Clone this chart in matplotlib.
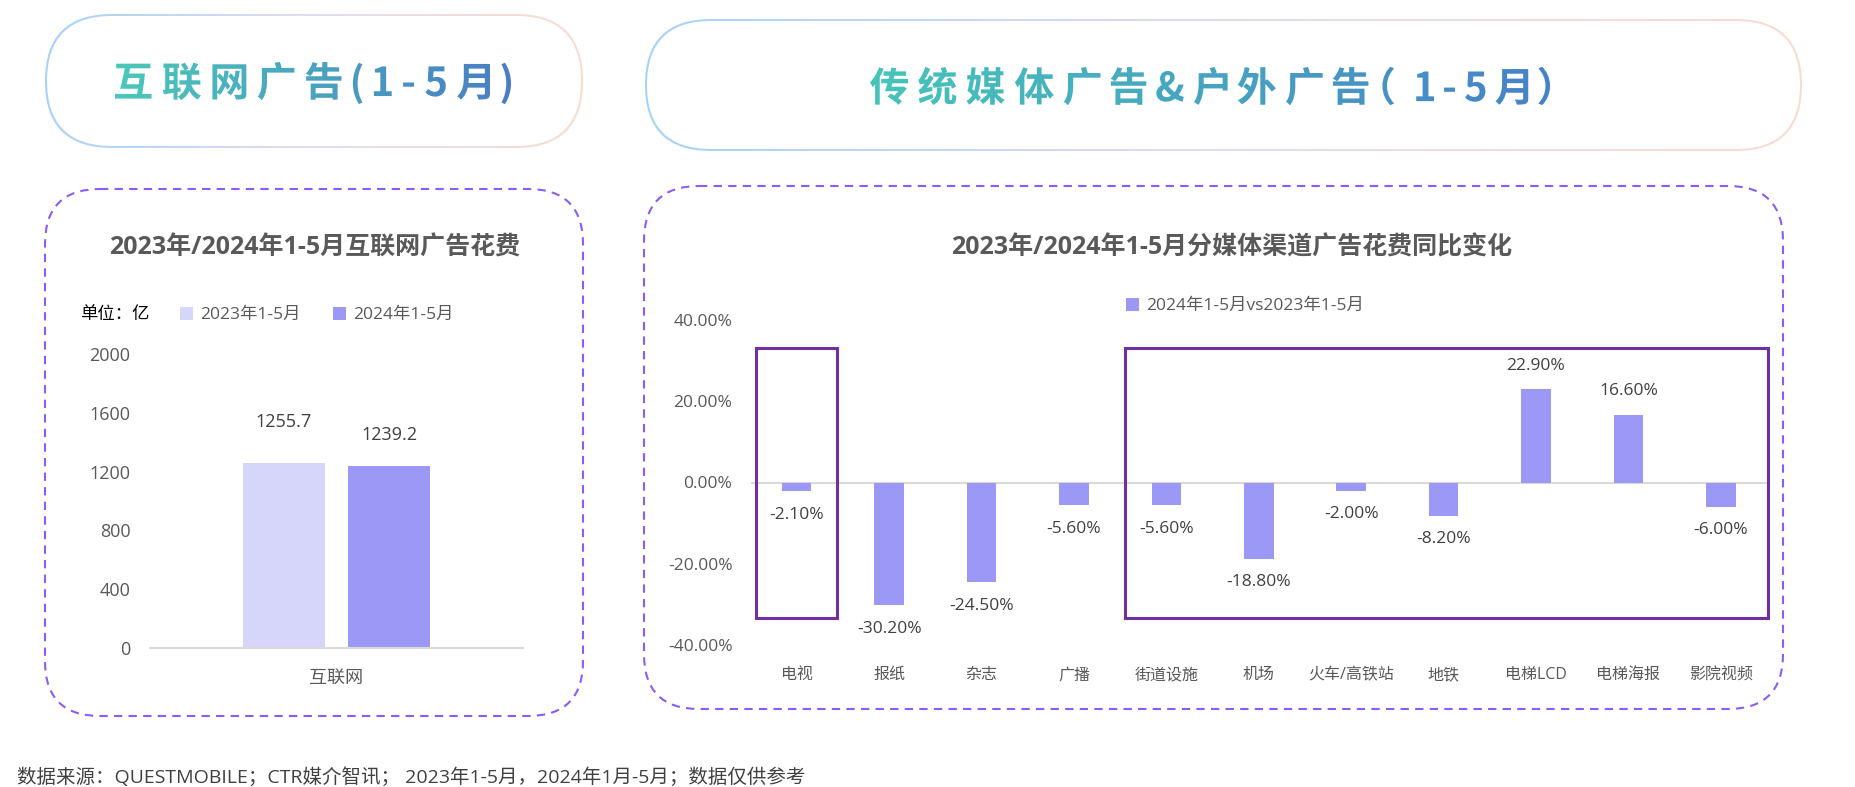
import matplotlib.pyplot as plt
import numpy as np
from matplotlib.patches import FancyBboxPatch, Rectangle, PathPatch
from matplotlib.textpath import TextPath
from matplotlib.font_manager import FontProperties
from matplotlib.path import Path
from matplotlib.transforms import Affine2D
from matplotlib.colors import LinearSegmentedColormap

plt.rcParams['font.family'] = ['Open Sans', 'Noto Sans CJK SC', 'DejaVu Sans']

W, H = 1855, 787

# data
web_cats = ['互联网']
web_series = ['2023年1-5月', '2024年1-5月']
web_values = [1255.7, 1239.2]
web_yticks = [0, 400, 800, 1200, 1600, 2000]

media_cats = ['电视', '报纸', '杂志', '广播', '街道设施', '机场', '火车/高铁站',
              '地铁', '电梯LCD', '电梯海报', '影院视频']
media_values = [-2.1, -30.2, -24.5, -5.6, -5.6, -18.8, -2.0, -8.2, 22.9, 16.6, -6.0]
media_series = '2024年1-5月vs2023年1-5月'
media_yticks = [-40, -20, 0, 20, 40]

header_left = '互联网广告(1-5月)'
header_right = '传统媒体广告&户外广告（1-5月）'
title_left = '2023年/2024年1-5月互联网广告花费'
title_right = '2023年/2024年1-5月分媒体渠道广告花费同比变化'
unit_text = '单位：亿'
source_text = '数据来源：QUESTMOBILE；CTR媒介智讯； 2023年1-5月，2024年1月-5月；数据仅供参考'

light = '#D6D5FA'
dark = '#9B99F5'
grey = '#595959'

fig = plt.figure(figsize=(W / 100, H / 100), dpi=100)
bg = fig.add_axes([0, 0, 1, 1], zorder=0)
bg.axis('off')

grad = np.linspace(0, 1, 256).reshape(1, -1)


def pill(x0, y0, x1, y1, colors):
    r = (y1 - y0) / 2
    outer = FancyBboxPatch((x0, y0), x1 - x0, y1 - y0,
                           boxstyle=f"round,pad=0,rounding_size={r}", fc='none', ec='none')
    bg.add_patch(outer)
    cmap = LinearSegmentedColormap.from_list('p', colors)
    im = bg.imshow(grad, extent=[x0, x1, y1, y0], cmap=cmap, aspect='auto', zorder=1)
    im.set_clip_path(outer)
    t = 2
    inner = FancyBboxPatch((x0 + t, y0 + t), x1 - x0 - 2 * t, y1 - y0 - 2 * t,
                           boxstyle=f"round,pad=0,rounding_size={r - t}", fc='white', ec='none', zorder=2)
    bg.add_patch(inner)


def grad_text(s, x0, x1, yc, size, colors):
    fp = FontProperties(family='Noto Sans CJK SC', weight='black')
    # full-width parens get some extra room, like the original layout
    extra_before = {'（': 0.1 * size}
    extra_after = {'（': 0.3 * size, '）': 0.0}
    glyphs = [TextPath((0, 0), ch, size=size, prop=fp) for ch in s]
    widths = [g.get_extents().width for g in glyphs]
    extras = sum(extra_before.get(c, 0) + extra_after.get(c, 0) for c in s)
    gap = ((x1 - x0) - sum(widths) - extras) / (len(s) - 1)
    parts = []
    x = 0
    for ch, g, w in zip(s, glyphs, widths):
        x += extra_before.get(ch, 0)
        v = g.vertices.copy()
        v[:, 0] += x - g.get_extents().x0
        parts.append(Path(v, g.codes))
        x += w + gap + extra_after.get(ch, 0)
    path = Path.make_compound_path(*parts)
    e = path.get_extents()
    tr = Affine2D().translate(-e.x0, -(e.y0 + e.y1) / 2).scale(1, -1).translate(x0, yc)
    path = tr.transform_path(path)
    patch = PathPatch(path, fc='none', ec='none')
    bg.add_patch(patch)
    e = path.get_extents()
    cmap = LinearSegmentedColormap.from_list('t', colors)
    im = bg.imshow(grad, extent=[e.x0, e.x1, e.y1, e.y0], cmap=cmap, aspect='auto', zorder=3)
    im.set_clip_path(patch)


border_cols = ['#A6D2FA', '#E3DDEF', '#F9DCCF']
pill(45, 14, 583, 148, border_cols)
pill(645, 19, 1802, 151, border_cols)
grad_text(header_left, 115, 511, 83, 40, ['#4AC8BA', '#4A7DC5'])
grad_text(header_right, 870, 1550, 86, 40, ['#46C5BA', '#4782C8'])

# dashed panels
for (x0, y0, x1, y1) in [(45, 189, 583, 716), (644, 186, 1783, 709)]:
    bg.add_patch(FancyBboxPatch((x0, y0), x1 - x0, y1 - y0,
                                boxstyle="round,pad=0,rounding_size=55", fc='none',
                                ec='#8B5CF6', lw=1.5, ls=(0, (4, 3))))

bg.set_xlim(0, W)
bg.set_ylim(H, 0)

bg.text(315, 248, title_left, ha='center', va='center', fontsize=18, weight='bold', color=grey)
bg.text(1232, 248, title_right, ha='center', va='center', fontsize=18, weight='bold', color=grey)
bg.text(80, 315, unit_text, ha='left', va='center', fontsize=12.5, color='black')
bg.text(17, 777, source_text, ha='left', va='center', fontsize=14, color='#404040')

# left chart
axL = fig.add_axes([150 / W, 1 - 648 / H, 373 / W, 294 / H])
xs = np.arange(len(web_cats))
bw = 0.222
offs = [-0.141, 0.141]
label_off = [29.5, 22.5]
for i, (name, val, col) in enumerate(zip(web_series, web_values, [light, dark])):
    axL.bar(xs + offs[i], [val], width=bw, color=col, label=name, zorder=2)
    axL.annotate(f'{val}', (xs[0] + offs[i], val), xytext=(0, label_off[i]),
                 textcoords='offset points', ha='center', va='center',
                 fontsize=13, color='#404040')
axL.set_xlim(-0.5, 0.5)
axL.set_ylim(0, 2000)
axL.set_yticks(web_yticks)
axL.set_xticks(xs)
axL.set_xticklabels(web_cats)
for s in ['top', 'right', 'left']:
    axL.spines[s].set_visible(False)
axL.spines['bottom'].set_color('#D9D9D9')
axL.spines['bottom'].set_linewidth(1.5)
axL.tick_params(axis='y', length=0, labelsize=13, colors=grey, pad=14)
axL.tick_params(axis='x', length=0, labelsize=13, colors=grey, pad=15)
axL.patch.set_alpha(0)
axL.legend(loc='center left', bbox_to_anchor=(180 / W, 1 - 315 / H), bbox_transform=fig.transFigure,
           ncol=2, frameon=False, fontsize=12.5, handlelength=0.75, handleheight=0.75,
           handletextpad=0.4, columnspacing=1.9, borderpad=0, borderaxespad=0, labelcolor=grey)

# right chart
axR = fig.add_axes([750.5 / W, 1 - 645 / H, 1016.5 / W, 325 / H])
xm = np.arange(len(media_cats))
axR.bar(xm, media_values, width=0.32, color=dark, label=media_series, zorder=2)
axR.axhline(0, color='#D9D9D9', lw=1.5, zorder=1)
for x, v in zip(xm, media_values):
    axR.annotate(f'{v:.2f}%', (x, v), xytext=(0, 17 if v > 0 else -17),
                 textcoords='offset points', ha='center', va='center',
                 fontsize=12.5, color='#404040')
axR.set_xlim(-0.5, len(media_cats) - 0.5)
axR.set_ylim(-40, 40)
axR.set_yticks(media_yticks)
axR.set_yticklabels([f'{t:.2f}%' for t in media_yticks])
axR.set_xticks(xm)
axR.set_xticklabels(media_cats)
for s in axR.spines.values():
    s.set_visible(False)
axR.tick_params(axis='y', length=0, labelsize=12.5, colors=grey, pad=13)
axR.tick_params(axis='x', length=0, labelsize=11.5, colors=grey, pad=16)
axR.patch.set_alpha(0)
axR.add_patch(Rectangle((-0.44, -33.3), 0.88, 66.4, fill=False, ec='#7030A0', lw=2.2, clip_on=False, zorder=3))
axR.add_patch(Rectangle((3.55, -33.3), 6.96, 66.4, fill=False, ec='#7030A0', lw=2.2, clip_on=False, zorder=3))
axR.legend(loc='center left', bbox_to_anchor=(1126 / W, 1 - 306 / H), bbox_transform=fig.transFigure,
           frameon=False, fontsize=12.5, handlelength=0.75, handleheight=0.75,
           handletextpad=0.4, borderpad=0, borderaxespad=0, labelcolor=grey)

fig.savefig('out.png', dpi=100)
